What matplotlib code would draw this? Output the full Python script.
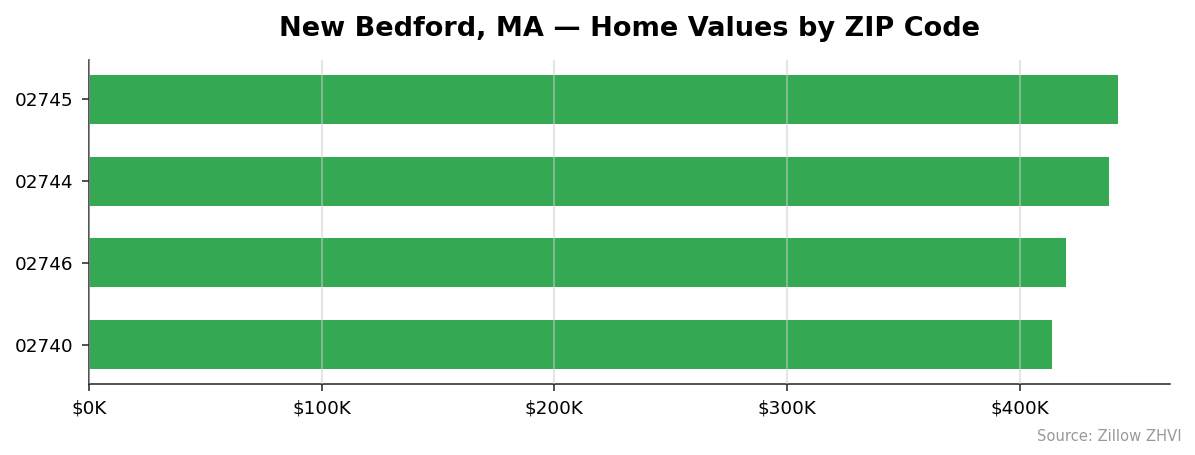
import matplotlib
matplotlib.use('Agg')
import matplotlib.pyplot as plt
from matplotlib.ticker import FuncFormatter

# ZHVI home values per ZIP (in dollars)
zips = ['02740', '02746', '02744', '02745']
values = [414000, 420100, 438600, 442500]

BAR_COLOR = '#34a853'

fig = plt.figure(figsize=(11.95, 4.55), dpi=100)
ax = fig.add_axes([0.0745, 0.156, 0.9045, 0.712])

ax.barh(zips, values, height=0.6, color=BAR_COLOR)
ax.set_xlim(0, max(values) * 1.05)
ax.xaxis.set_major_formatter(FuncFormatter(lambda v, p: '${:.0f}K'.format(v / 1000)))

ax.set_axisbelow(False)
ax.grid(axis='x', color='#cccccc', alpha=0.5, linewidth=1.5)
ax.spines['top'].set_visible(False)
ax.spines['right'].set_visible(False)
for s in ('left', 'bottom'):
    ax.spines[s].set_linewidth(1.1)
    ax.spines[s].set_color('#222222')
ax.tick_params(labelsize=13.2, length=4.7, width=1.1, color='#222222', pad=6.5)

ax.set_title('New Bedford, MA \u2014 Home Values by ZIP Code', fontsize=19.5,
             fontweight='bold', pad=17)
fig.text(0.989, 0.025, 'Source: Zillow ZHVI', ha='right', va='bottom',
         fontsize=10.6, color='#999999')

fig.savefig('out.png', dpi=100)
